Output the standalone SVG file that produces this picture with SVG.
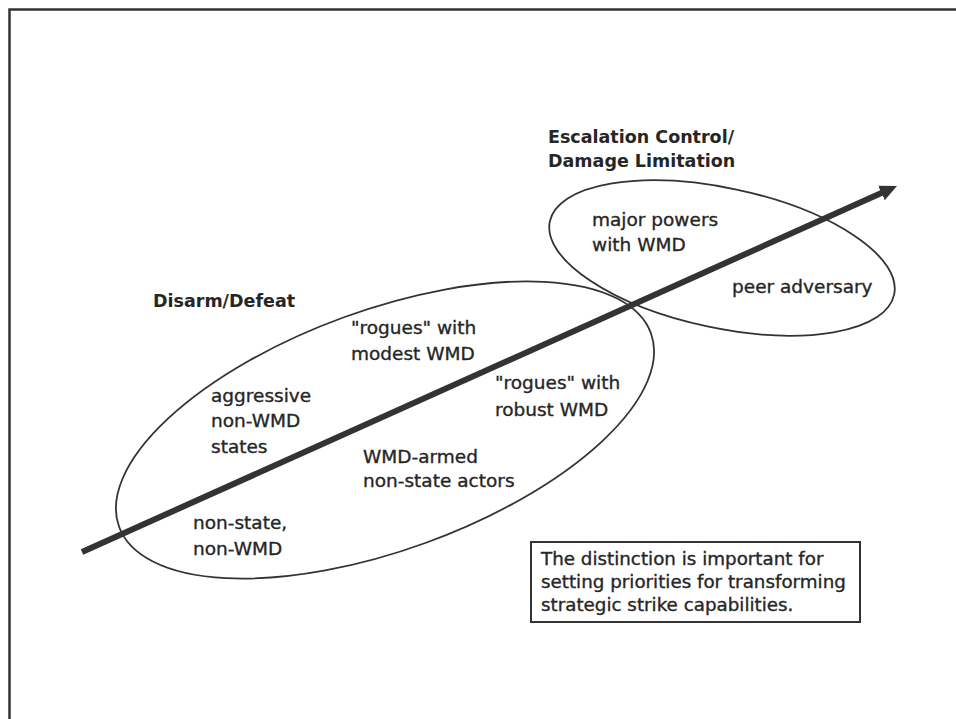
<svg xmlns="http://www.w3.org/2000/svg" width="956" height="719" viewBox="0 0 956 719">
  <style>
    .t { font-family: "DejaVu Sans", "Liberation Sans", sans-serif; font-size: 18.5px; fill: #262626; stroke: #262626; stroke-width: 0.35; }
    .b { font-family: "DejaVu Sans", "Liberation Sans", sans-serif; font-size: 17.5px; font-weight: bold; fill: #262626; }
    .s { font-family: "DejaVu Sans", "Liberation Sans", sans-serif; font-size: 18.3px; fill: #262626; stroke: #262626; stroke-width: 0.35; }
    .ell { fill: none; stroke: #333; stroke-width: 1.8; }
    .frame { fill: none; stroke: #333; stroke-width: 2.5; }
  </style>
  <defs>
    <marker id="ah" markerUnits="userSpaceOnUse" viewBox="0 0 17 16" markerWidth="17" markerHeight="16" refX="3" refY="8" orient="auto">
      <path d="M0,0 L17,8 L0,16 z" fill="#333"/>
    </marker>
  </defs>
  <rect width="956" height="719" fill="#fff"/>
  <path class="frame" d="M9.5,719 V9.5 H956"/>

  <g id="region-disarm">
    <ellipse class="ell" cx="385" cy="430" rx="283" ry="120" transform="rotate(-20 385 430)"/>
  </g>
  <g id="region-escalation">
    <ellipse class="ell" cx="722" cy="258" rx="176" ry="70" transform="rotate(12 722 258)"/>
  </g>

  <g id="connectors">
    <line x1="82" y1="552" x2="884.2" y2="191.7" stroke="#333" stroke-width="6" marker-end="url(#ah)"/>
  </g>

  <g id="label-escalation">
    <text class="b" x="548" y="143">Escalation Control/</text>
    <text class="b" x="548" y="167">Damage Limitation</text>
  </g>
  <g id="label-disarm">
    <text class="b" x="153" y="307">Disarm/Defeat</text>
  </g>
  <g id="node-major-powers">
    <text class="t" x="592" y="226">major powers</text>
    <text class="t" x="592" y="251">with WMD</text>
  </g>
  <g id="node-peer">
    <text class="t" x="732" y="293">peer adversary</text>
  </g>
  <g id="node-rogues-modest">
    <text class="t" x="351" y="334">"rogues" with</text>
    <text class="t" x="351" y="360">modest WMD</text>
  </g>
  <g id="node-aggressive">
    <text class="t" x="211" y="402">aggressive</text>
    <text class="t" x="211" y="427">non-WMD</text>
    <text class="t" x="211" y="453">states</text>
  </g>
  <g id="node-rogues-robust">
    <text class="t" x="495" y="389">"rogues" with</text>
    <text class="t" x="495" y="416">robust WMD</text>
  </g>
  <g id="node-wmd-armed">
    <text class="t" x="363" y="463">WMD-armed</text>
    <text class="t" x="363" y="487">non-state actors</text>
  </g>
  <g id="node-non-state">
    <text class="t" x="193" y="529">non-state,</text>
    <text class="t" x="193" y="555">non-WMD</text>
  </g>
  <g id="note">
    <rect x="531" y="542" width="329" height="80" fill="none" stroke="#333" stroke-width="2"/>
    <text class="s" x="541" y="565">The distinction is important for</text>
    <text class="s" x="541" y="588">setting priorities for transforming</text>
    <text class="s" x="541" y="611">strategic strike capabilities.</text>
  </g>
</svg>
